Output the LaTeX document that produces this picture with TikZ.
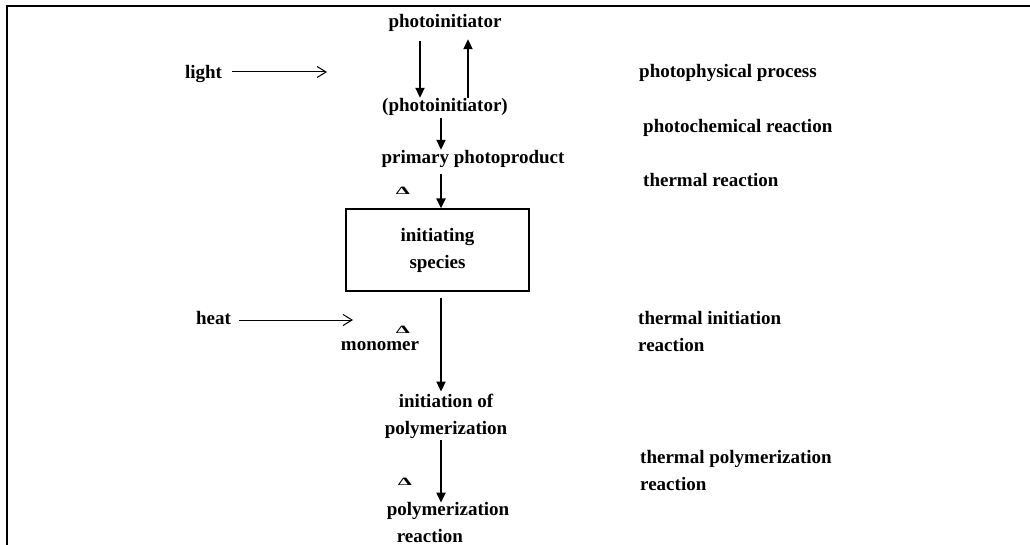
\documentclass[tikz,border=0pt]{standalone}
\usepackage{fontspec}
\setmainfont{Liberation Serif}
\usetikzlibrary{arrows.meta}
\tikzset{
  txt/.style={inner sep=2pt, font=\bfseries\fontsize{19}{27}\selectfont},
  one/.style={txt, text height=12pt, text depth=4pt},
  flow/.style={-{Triangle[length=10pt,width=9pt]}, line width=2pt},
  feed/.style={-{Straight Barb[length=9pt,width=11pt]}, line width=1pt},
  delta/.style={inner sep=0pt, font=\bfseries\fontsize{16}{16}\selectfont},
}
\begin{document}
\begin{tikzpicture}[x=1pt,y=-1pt]
    \useasboundingbox (0,0) rectangle (1030,545);
    % moldura
    \draw[line width=1.4pt] (7,545) -- (7,6) -- (1030,6);

    % coluna central
    \node[one] (pi) at (445,24) {photoinitiator};
    \node[one] (pi2) at (445,108) {(photoinitiator)};
    \node[one] (pp) at (473,160) {primary\ photoproduct};
    \node[txt, draw, line width=1.2pt, minimum width=183pt, minimum height=82pt, align=center] (box) at (437.5,250) {initiating\\species};
    \node[one] (mono) at (380,346) {monomer};
    \node[txt, align=center] (init) at (446,416) {initiation\ of\\polymerization};
    \node[txt, align=left] (polyr) at (448,522) {polymerization\\\hspace*{10pt}reaction};

    % deltas
    \node[delta] (d1) at (403,191) {\scalebox{1.4}[0.7]{Δ}};
    \node[delta] (d2) at (403,330) {\scalebox{1.4}[0.7]{Δ}};
    \node[delta] (d3) at (405,482) {\scalebox{1.4}[0.7]{Δ}};

    % luz e calor
    \node[one] (light) at (203.5,75) {light};
    \coordinate (lightend) at (327,72);
    \node[one] (heat) at (213.5,320) {heat};
    \coordinate (heatend) at (353,320);

    % rotulos da direita
    \node[one, anchor=west] (phys) at (637,74) {photophysical\ process};
    \node[one, anchor=west] (chem) at (641,129) {photochemical\ reaction};
    \node[one, anchor=west] (therm) at (641,183) {thermal\ reaction};
    \node[txt, anchor=west, align=left] (tinit) at (636,332) {thermal\ initiation\\reaction};
    \node[txt, anchor=west, align=left] (tpoly) at (638,470) {thermal\ polymerization\\reaction};

    % setas
    \coordinate (spine) at (441,0);
    \draw[flow, shorten <=7pt] ([xshift=-25pt]pi.south) -- ([xshift=-25pt]pi2.north);
    \draw[flow, shorten >=5pt] ([xshift=23pt]pi2.north) -- ([xshift=23pt]pi.south);
    \draw[flow] (pi2.south -| spine) -- (pp.north -| spine);
    \draw[flow, shorten <=4pt] (pp.south -| spine) -- (box.north -| spine);
    \draw[flow, shorten <=6pt] (box.south -| spine) -- (init.north -| spine);
    \draw[flow, shorten >=-3pt] (init.south -| spine) -- (polyr.north -| spine);
    \draw[feed, shorten <=8pt] (light.east |- lightend) -- (lightend);
    \draw[feed, shorten <=6pt] (heat.east) -- (heatend);
\end{tikzpicture}
\end{document}
